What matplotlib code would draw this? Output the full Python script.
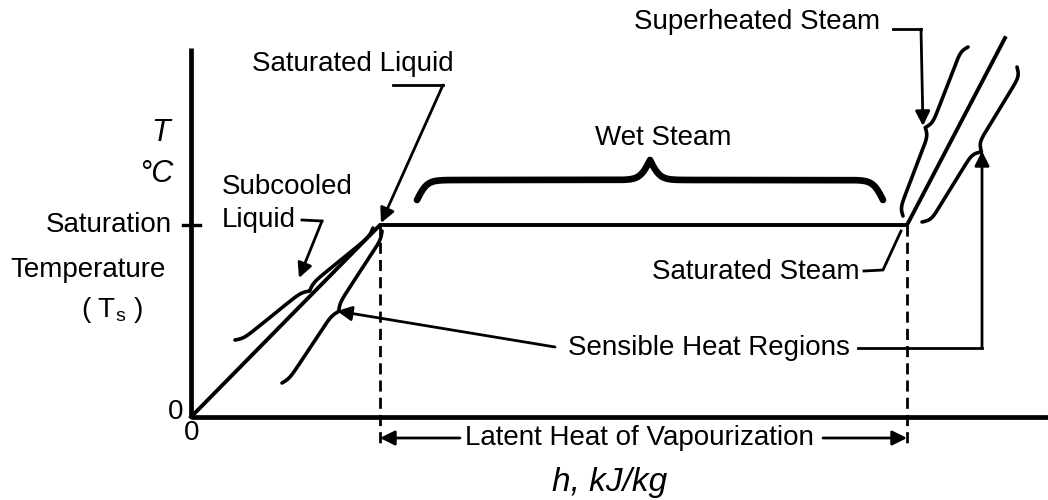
import numpy as np
import matplotlib
matplotlib.use("Agg")
import matplotlib.pyplot as plt

# state points of the heating process (schematic units, origin at 0/0)
h_points = [0, 189, 716, 814]       # 0, h_f, h_g, superheated end
T_points = [0, 192, 192, 379]       # 0, T_s, T_s, superheated end
h_f, h_g = h_points[1], h_points[2]
T_s = T_points[1]

y_axis_top = 369
x_axis_right = 857

plt.rcParams['font.family'] = ['Liberation Sans', 'DejaVu Sans']
FS = 20


def brace(ax, p1, p2, w, beta=0.2, lw=2.6):
    # curly brace from p1 to p2, cusp at the middle, offset w to the left of p1->p2
    p1 = np.asarray(p1, float)
    p2 = np.asarray(p2, float)
    d = p2 - p1
    L = np.hypot(*d)
    u = d / L
    n = np.array([-u[1], u[0]])
    s = np.linspace(0, L / 2, 300)
    yh = 1 / (1 + np.exp(-beta * (s - s[0]))) + 1 / (1 + np.exp(-beta * (s - s[-1]))) - 0.5
    y = np.concatenate([yh, yh[-2::-1]])
    x = np.concatenate([s, L - s[-2::-1]])
    pts = p1 + np.outer(x, u) + np.outer(y * w, n)
    ax.plot(pts[:, 0], pts[:, 1], color='black', lw=lw, solid_capstyle='round')


def arrow(ax, start, end, lw=2.0):
    ax.annotate('', xy=end, xytext=start,
                arrowprops=dict(arrowstyle='-|>', color='black', lw=lw,
                                mutation_scale=22, shrinkA=0, shrinkB=0))


def leader(ax, pts, head=True, lw=2.0):
    pts = np.asarray(pts, float)
    if head:
        ax.plot(pts[:-1, 0], pts[:-1, 1], color='black', lw=lw)
        arrow(ax, pts[-2], pts[-1], lw=lw)
    else:
        ax.plot(pts[:, 0], pts[:, 1], color='black', lw=lw)


fig = plt.figure(figsize=(10.48, 5), dpi=100)
ax = fig.add_axes([0, 0, 1, 1])
ax.set_xlim(-191, 857)
ax.set_ylim(-83, 417)
ax.axis('off')

# axes
ax.plot([0, 0], [0, y_axis_top], color='black', lw=3.4, solid_capstyle='butt')
ax.plot([0, x_axis_right], [0, 0], color='black', lw=3.4, solid_capstyle='butt')
ax.plot([-8, 9], [T_s, T_s], color='black', lw=2.4)

# process line
ax.plot(h_points, T_points, color='black', lw=2.8, solid_joinstyle='miter')

# dashed verticals
for hx in (h_f, h_g):
    ax.plot([hx, hx], [T_s, -28], color='black', lw=2.0, dashes=(4, 2.2))

# latent heat
ax.text(274, -21, 'Latent Heat of Vapourization', ha='left', va='center', fontsize=FS)
arrow(ax, (269, -21), (h_f, -21))
arrow(ax, (632, -21), (h_g, -21))

# axis labels
ax.text(419, -65, 'h, kJ/kg', ha='center', va='center', fontsize=FS + 4, style='italic')
ax.text(1, -16, '0', ha='center', va='center', fontsize=FS)
ax.text(-15, 5, '0', ha='center', va='center', fontsize=FS)
ax.text(-30, 284, 'T', ha='center', va='center', fontsize=FS + 2, style='italic')
ax.text(-35, 243, '°C', ha='center', va='center', fontsize=FS + 2, style='italic')
ax.text(-19, T_s, 'Saturation', ha='right', va='center', fontsize=FS)
ax.text(-103, 147, 'Temperature', ha='center', va='center', fontsize=FS)
ax.text(-79, 107, r'( T$_\mathregular{s}$ )', ha='center', va='center', fontsize=FS)

# saturated liquid
ax.text(61, 353, 'Saturated Liquid', ha='left', va='center', fontsize=FS)
leader(ax, [(202, 332), (252, 332), (h_f + 1, T_s + 2)])

# subcooled liquid
ax.text(31, 230, 'Subcooled', ha='left', va='center', fontsize=FS)
ax.text(31, 197, 'Liquid', ha='left', va='center', fontsize=FS)
brace(ax, (182, 189), (44, 77), 9, beta=0.25)
leader(ax, [(111, 197), (131, 196), (108, 139)])

# wet steam
ax.text(404, 279, 'Wet Steam', ha='left', va='center', fontsize=FS)
brace(ax, (226, 217), (692, 217), 40, beta=0.2, lw=4.8)

# superheated steam
ax.text(689, 395, 'Superheated Steam', ha='right', va='center', fontsize=FS)
brace(ax, (712, 201), (777, 370), 11, beta=0.3)
leader(ax, [(702, 388), (730, 388), (732, 291)])

# saturated steam
ax.text(669, 145, 'Saturated Steam', ha='right', va='center', fontsize=FS)
leader(ax, [(673, 146), (692, 147), (710, 186)], head=False)
brace(ax, (826, 350), (731, 195), 14, beta=0.3)

# sensible heat regions
ax.text(659, 69, 'Sensible Heat Regions', ha='right', va='center', fontsize=FS)
brace(ax, (91, 34), (191, 186), -8, beta=0.25)
arrow(ax, (364, 70), (146, 106))
leader(ax, [(667, 69), (791, 69), (791, 266)])

fig.savefig('out.png', dpi=100, facecolor='white')
